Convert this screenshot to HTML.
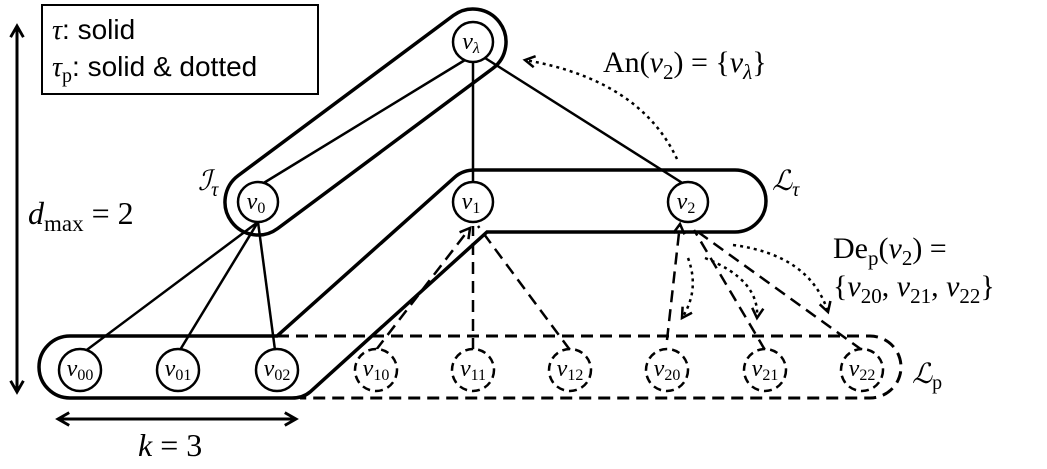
<!DOCTYPE html>
<html><head><meta charset="utf-8"><style>
html,body{margin:0;padding:0;background:#fff;width:1047px;height:469px;overflow:hidden}
svg{display:block}
.sv{font-family:"Liberation Serif",serif;fill:#000}
.ss{font-family:"Liberation Sans",sans-serif;fill:#000}
.n{font-style:italic;font-size:24px;font-family:"Liberation Serif",serif}
</style></head><body>
<svg width="1047" height="469" viewBox="0 0 1047 469" xmlns="http://www.w3.org/2000/svg">
<defs>
<marker id="ah" viewBox="0 0 10 10" refX="8" refY="5" markerWidth="14" markerHeight="14" orient="auto-start-reverse" markerUnits="userSpaceOnUse">
<path d="M1,1 L8,5 L1,9" fill="none" stroke="#000" stroke-width="1.8"/></marker>
<marker id="ahb" viewBox="0 0 10 10" refX="8" refY="5" markerWidth="16" markerHeight="16" orient="auto-start-reverse" markerUnits="userSpaceOnUse">
<path d="M1,1 L8,5 L1,9" fill="none" stroke="#000" stroke-width="1.8"/></marker>
</defs>
<!-- legend -->
<rect x="42" y="5" width="276" height="89" fill="none" stroke="#000" stroke-width="2"/>
<text x="52" y="39" font-size="28" class="ss"><tspan class="sv" font-style="italic">τ</tspan>: solid</text>
<text x="52" y="76" font-size="28" class="ss"><tspan class="sv" font-style="italic">τ</tspan><tspan class="sv" font-size="20" dy="6">p</tspan><tspan dy="-6">: solid &amp; dotted</tspan></text>
<!-- dmax arrow -->
<line x1="17" y1="26" x2="17" y2="392" stroke="#000" stroke-width="3" marker-start="url(#ahb)" marker-end="url(#ahb)"/>
<text x="28" y="224" font-size="32" class="sv"><tspan font-style="italic">d</tspan><tspan font-size="23" dy="7">max</tspan><tspan dy="-7"> = 2</tspan></text>
<!-- k arrow -->
<line x1="58" y1="419" x2="296" y2="419" stroke="#000" stroke-width="3" marker-start="url(#ahb)" marker-end="url(#ahb)"/>
<text x="138" y="456" font-size="32" class="sv"><tspan font-style="italic">k</tspan> = 3</text>
<!-- I tau capsule -->
<path d="M238.3,175.5 L453.3,15.5 A33 33 0 0 1 492.7,68.5 L277.7,228.5 A33 33 0 0 1 238.3,175.5 Z" fill="none" stroke="#000" stroke-width="3.5"/>
<text x="198" y="190" font-size="28" font-style="italic" class="sv">ℐ<tspan font-size="20" dy="6">τ</tspan></text>
<!-- L tau + leaves capsule -->
<path d="M475,170 L735,170 A31 31 0 0 1 735,232 L487,232 L310,392 Q303,398 292,398 L70,398 A31 31 0 0 1 70,336 L277,336 L455,177 Q463,170 475,170 Z" fill="none" stroke="#000" stroke-width="3.5"/>
<text x="772" y="190" font-size="28" font-style="italic" class="sv">ℒ<tspan font-size="20" dy="6">τ</tspan></text>
<!-- Lp dashed -->
<path d="M277,336 L870,336 A31 31 0 0 1 870,398 L300,398" fill="none" stroke="#000" stroke-width="3" stroke-dasharray="12,7"/>
<text x="912" y="383" font-size="28" font-style="italic" class="sv">ℒ<tspan font-size="20" dy="6" font-style="normal">p</tspan></text>
<!-- solid edges -->
<g stroke="#000" stroke-width="2.5">
<line x1="473" y1="62" x2="473" y2="182"/>
<line x1="465" y1="60" x2="262" y2="184"/>
<line x1="485" y1="58" x2="684" y2="184"/>
<line x1="258" y1="222" x2="84" y2="352"/>
<line x1="258" y1="222" x2="180" y2="350"/>
<line x1="258" y1="222" x2="275" y2="350"/>
</g>
<!-- dashed edges -->
<g stroke="#000" stroke-width="2.5" stroke-dasharray="12,7" fill="none">
<line x1="376" y1="350" x2="470" y2="228" marker-end="url(#ah)"/>
<line x1="473" y1="350" x2="473" y2="226"/>
<line x1="570" y1="350" x2="478" y2="226"/>
<line x1="667" y1="340" x2="680" y2="224" marker-end="url(#ah)"/>
<line x1="765" y1="350" x2="694" y2="230"/>
<line x1="862" y1="350" x2="698" y2="232"/>
</g>
<!-- dotted arrows -->
<g stroke="#000" stroke-width="2.5" stroke-dasharray="3,4" fill="none">
<path d="M688,258 Q700,290 682,318" marker-end="url(#ah)"/>
<path d="M705,258 Q760,280 757,318" marker-end="url(#ah)"/>
<path d="M733,245 Q810,255 828,312" marker-end="url(#ah)"/>
<path d="M677,159 Q640,80 525,60" marker-end="url(#ah)"/>
</g>
<text x="603" y="72" font-size="30" class="sv">An(<tspan font-style="italic">v</tspan><tspan font-size="21" dy="7">2</tspan><tspan dy="-7">) = {</tspan><tspan font-style="italic">v</tspan><tspan font-size="21" dy="7" font-style="italic">λ</tspan><tspan dy="-7">}</tspan></text>
<text x="833" y="258" font-size="30" class="sv">De<tspan font-size="21" dy="7">p</tspan><tspan dy="-7">(</tspan><tspan font-style="italic">v</tspan><tspan font-size="21" dy="7">2</tspan><tspan dy="-7">) =</tspan></text>
<text x="833" y="296" font-size="30" class="sv">{<tspan font-style="italic">v</tspan><tspan font-size="21" dy="7">20</tspan><tspan dy="-7">, </tspan><tspan font-style="italic">v</tspan><tspan font-size="21" dy="7">21</tspan><tspan dy="-7">, </tspan><tspan font-style="italic">v</tspan><tspan font-size="21" dy="7">22</tspan><tspan dy="-7">}</tspan></text>
<!-- solid nodes -->
<g fill="#fff" stroke="#000" stroke-width="2.5">
<circle cx="473" cy="42" r="20"/>
<circle cx="258" cy="202" r="20"/>
<circle cx="473" cy="202" r="20"/>
<circle cx="688" cy="202" r="20"/>
<circle cx="80" cy="370" r="21"/>
<circle cx="178" cy="370" r="21"/>
<circle cx="277" cy="370" r="21"/>
</g>
<g fill="#fff" stroke="#000" stroke-width="2.5" stroke-dasharray="8,5">
<circle cx="376" cy="370" r="21"/>
<circle cx="473" cy="370" r="21"/>
<circle cx="570" cy="370" r="21"/>
<circle cx="667" cy="370" r="21"/>
<circle cx="765" cy="370" r="21"/>
<circle cx="862" cy="370" r="21"/>
</g>
<g class="n" text-anchor="middle">
<text x="471" y="49">v<tspan font-size="16" dy="4">λ</tspan></text>
<text x="256" y="209">v<tspan font-size="16" dy="4" font-style="normal">0</tspan></text>
<text x="471" y="209">v<tspan font-size="16" dy="4" font-style="normal">1</tspan></text>
<text x="686" y="209">v<tspan font-size="16" dy="4" font-style="normal">2</tspan></text>
<text x="80" y="376">v<tspan font-size="16" dy="4" font-style="normal">00</tspan></text>
<text x="178" y="376">v<tspan font-size="16" dy="4" font-style="normal">01</tspan></text>
<text x="277" y="376">v<tspan font-size="16" dy="4" font-style="normal">02</tspan></text>
<text x="376" y="376">v<tspan font-size="16" dy="4" font-style="normal">10</tspan></text>
<text x="473" y="376">v<tspan font-size="16" dy="4" font-style="normal">11</tspan></text>
<text x="570" y="376">v<tspan font-size="16" dy="4" font-style="normal">12</tspan></text>
<text x="667" y="376">v<tspan font-size="16" dy="4" font-style="normal">20</tspan></text>
<text x="765" y="376">v<tspan font-size="16" dy="4" font-style="normal">21</tspan></text>
<text x="862" y="376">v<tspan font-size="16" dy="4" font-style="normal">22</tspan></text>
</g>
</svg>
</body></html>
